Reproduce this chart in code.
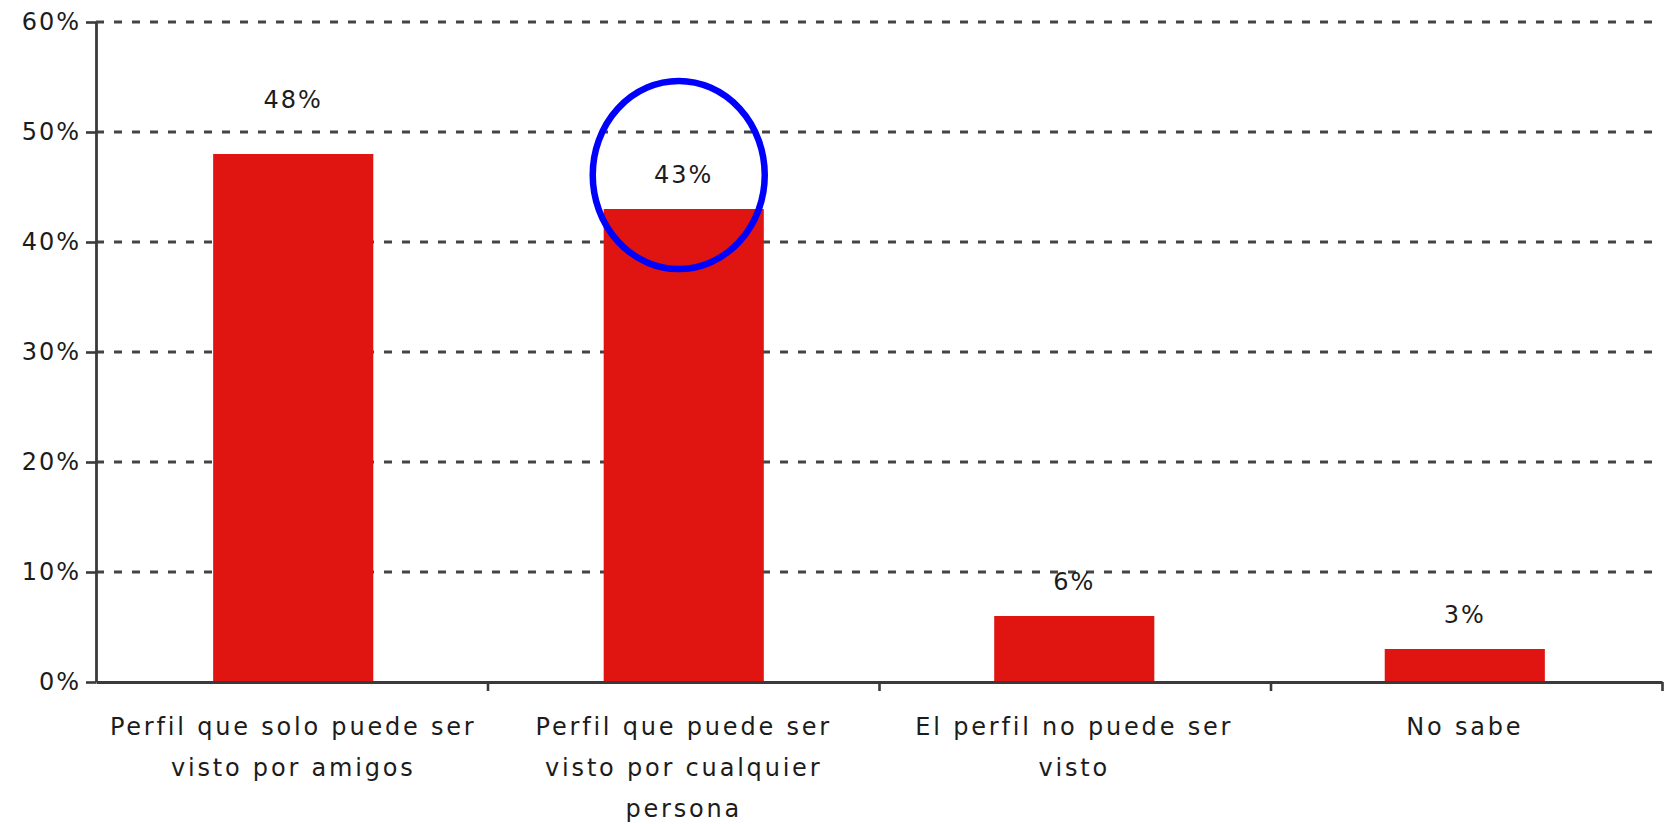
<!DOCTYPE html>
<html>
<head>
<meta charset="utf-8">
<script src="https://cdn.jsdelivr.net/npm/d3@7"></script>
<style>
   html, body { margin: 0; padding: 0; background: #fff; }
   svg { display: block; }
   text { font-family: "DejaVu Sans", Verdana, sans-serif; fill: #1c1c1c; }
</style>
</head>
<body>
<div id="container"></div>
<script>
// categories (one entry per line of the axis label)
const categoryLines = [
   ["Perfil que solo puede ser", "visto por amigos"],
   ["Perfil que  puede ser", "visto por cualquier", "persona"],
   ["El perfil no puede ser", "visto"],
   ["No sabe"]
];
const categories = categoryLines.map(lines => lines.join(" "));
const values = [48, 43, 6, 3];
const yTicks = [0, 10, 20, 30, 40, 50, 60];
const highlighted = 1; // the bar circled in blue

const width = 1675;
const height = 824;
const margin = { top: 22, left: 96, right: 13, bottom: 142 };
const innerW = width - margin.left - margin.right;
const innerH = height - margin.top - margin.bottom;

const svg = d3
   .select("#container")
   .append("svg")
   .attr("width", width)
   .attr("height", height);

const chart = svg.append("g").attr("transform", `translate(${margin.left}, ${margin.top})`);

const xScale = d3
   .scaleBand()
   .range([0, innerW])
   .domain(categories)
   .paddingInner(0.59)
   .paddingOuter(0.3);

// used only for the tick marks that sit between categories
const xEdges = d3
   .scaleLinear()
   .domain([0, categories.length])
   .range([0, innerW]);

const yScale = d3
   .scaleLinear()
   .range([innerH, 0])
   .domain([0, 60]);

/** dashed grid lines */
chart
   .append("g")
   .selectAll("line")
   .data(yTicks.filter(t => t > 0))
   .enter()
   .append("line")
   .attr("x1", 0)
   .attr("x2", innerW)
   .attr("y1", d => yScale(d))
   .attr("y2", d => yScale(d))
   .attr("stroke", "#444")
   .attr("stroke-width", 2.8)
   .attr("stroke-dasharray", "8,10");

/** bars */
chart
   .selectAll(".bar")
   .data(values)
   .enter()
   .append("rect")
   .attr("class", "bar")
   .style("fill", "#e01410")
   .attr("x", (d, i) => xScale(categories[i]))
   .attr("y", d => yScale(d))
   .attr("height", d => innerH - yScale(d))
   .attr("width", xScale.bandwidth());

/** y axis */
const yAxis = chart
   .append("g")
   .call(
      d3
         .axisLeft(yScale)
         .tickValues(yTicks)
         .tickFormat(d => d + "%")
         .tickSize(10)
         .tickSizeOuter(0)
         .tickPadding(5)
   );
yAxis.select(".domain").attr("stroke", "#3a3a3a").attr("stroke-width", 2.8);
yAxis.selectAll(".tick line").attr("stroke", "#3a3a3a").attr("stroke-width", 2.6);
yAxis
   .selectAll(".tick text")
   .style("font-family", "'DejaVu Sans', Verdana, sans-serif")
   .style("font-size", "24px")
   .style("letter-spacing", "2px")
   .attr("fill", "#1c1c1c");

/** x axis, ticks on the category edges */
const xAxis = chart
   .append("g")
   .attr("transform", `translate(0, ${innerH})`)
   .call(
      d3
         .axisBottom(xEdges)
         .ticks(categories.length)
         .tickFormat("")
         .tickSize(9)
         .tickSizeOuter(0)
   );
xAxis.select(".domain").attr("stroke", "#3a3a3a").attr("stroke-width", 2.8);
xAxis.selectAll(".tick line").attr("stroke", "#3a3a3a").attr("stroke-width", 2.6);
xAxis.selectAll(".tick").filter(d => d === 0).remove();

/** category labels */
const catLabels = chart
   .append("g")
   .selectAll("text")
   .data(categoryLines)
   .enter()
   .append("text")
   .attr("text-anchor", "middle")
   .style("font-size", "24px")
   .style("letter-spacing", "2.8px")
   .attr("transform", (d, i) => `translate(${xScale(categories[i]) + xScale.bandwidth() / 2}, ${innerH + 53})`);

catLabels
   .selectAll("tspan")
   .data(d => d)
   .enter()
   .append("tspan")
   .attr("x", 0)
   .attr("y", (d, i) => i * 41)
   .text(d => d);

/** value labels; the first one was pulled higher in the original */
const labelY = (d, i) => yScale(d) - (i === 0 ? 46 : 26);

chart
   .append("g")
   .selectAll("text")
   .data(values)
   .enter()
   .append("text")
   .attr("text-anchor", "middle")
   .style("font-size", "24px")
   .style("letter-spacing", "2px")
   .attr("x", (d, i) => xScale(categories[i]) + xScale.bandwidth() / 2)
   .attr("y", labelY)
   .text(d => d + "%");

/** blue ring around the highlighted label */
chart
   .append("ellipse")
   .attr("cx", xScale(categories[highlighted]) + xScale.bandwidth() / 2 - 5)
   .attr("cy", labelY(values[highlighted], highlighted) - 8)
   .attr("rx", 86)
   .attr("ry", 94)
   .attr("fill", "none")
   .attr("stroke", "#0000ff")
   .attr("stroke-width", 6.5);
</script>
</body>
</html>
